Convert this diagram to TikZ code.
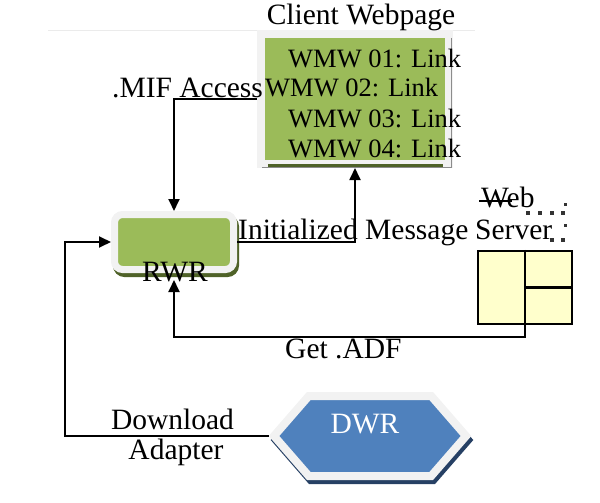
\documentclass[tikz,border=0pt]{standalone}
\usepackage{fontspec}
\setmainfont{Liberation Serif}
\usetikzlibrary{shapes.symbols, arrows.meta, positioning, calc}
\definecolor{leaf}{RGB}{155,187,89}
\definecolor{leafdark}{RGB}{79,98,40}
\definecolor{steel}{RGB}{79,129,189}
\definecolor{steeldark}{RGB}{38,64,100}
\definecolor{rim}{RGB}{242,242,242}
\definecolor{paper}{RGB}{255,255,204}

\begin{document}
\begin{tikzpicture}[x=1pt, y=-1pt,
      txt/.style={inner sep=0pt, font=\fontsize{29.5}{35}\selectfont, anchor=base west},
      linktxt/.style={txt, font=\fontsize{26.5}{32}\selectfont},
      rimline/.style={draw=rim, line width=#1},
      dropbox/.style 2 args={preaction={draw=#1, fill=#1, line width=#2,
                  transform canvas={xshift=2pt, yshift=-4pt}}},
      arr/.style={-{Triangle[length=12pt, width=11pt]}, line width=1.8pt}
    ]
    \useasboundingbox (0,0) rectangle (600,503);
    \draw[black!8, line width=0.8pt] (48,30) -- (475,30);

    % boxes
    \node[rectangle, rimline=8pt, fill=leaf, minimum width=188, minimum height=130] (web) at (355,99) {};
    \node[rectangle, rounded corners=8pt, rimline=7pt, fill=leaf, dropbox={leafdark}{7pt},
          minimum width=119, minimum height=55] (rwr) at (174,242) {};
    \node[signal, signal to=west and east, signal pointer angle=98, rimline=8pt, fill=steel,
          dropbox={steeldark}{8pt}, minimum width=192, minimum height=80] (dwr) at (370,436) {};
    \node[rectangle, draw=black, line width=2.5pt, fill=paper,
          minimum width=94, minimum height=73] (srv) at (525,287.5) {};

    \draw[leafdark, line width=3pt] ($(web.south west)+(11,-3)$) -- ($(web.south east)+(-10,-3)$);
    \draw[black!45, line width=0.8pt] ($(web.north east)+(-2,8)$) |- ($(web.south west)+(5,-1)$);
    \draw[line width=2.5pt] (srv.north) -- (srv.south);
    \draw[line width=2.5pt] (srv.center) -- (srv.east);

    % texts
    \node[txt, anchor=base] (title) at ($(web.north)+(6,-5)$) {Client Webpage};
    \node[linktxt] (w1) at (288,67) {WMW 01: Link};
    \node[linktxt] (w2) at (265,96) {WMW 02: Link};
    \node[linktxt] (w3) at (288,128) {WMW 03: Link};
    \node[linktxt] (w4) at (288,157) {WMW 04: Link};
    \node[txt, anchor=base] (rwrlbl) at ($(rwr.south)+(1,8)$) {RWR};
    \node[txt, anchor=base, text=white] (dwrlbl) at ($(dwr.center)+(-5,-3)$) {DWR};
    \node[txt] (weblbl) at (481,207) {Web};
    \node[txt] (srvlbl) at (475,239) {Server};

    % web server icon bits
    \draw[line width=1.2pt] (479,201) -- (512,201);
    \foreach \x in {528,540,552,563}
      \fill[black!80] (\x-1.8,211) rectangle ++(3.6,3.6);
    \foreach \x in {552,563}
      \fill[black!80] (\x-1.8,238) rectangle ++(3.6,3.6);
    \foreach \y in {203,224}
      \fill[black!80] (564,\y) rectangle ++(2.5,2.5);

    % connectors
    \draw[arr] (web.west) -| (rwr.north);
    \draw[arr] (rwr.east) -| (web.south);
    \draw[arr, shorten >=7pt] (srv.south) -- ++(0,12) -| (rwr.south);
    \coordinate (dlbend) at (65,436);
    \draw[arr] (dwr.west) -- (dlbend) |- (rwr.west);

    \node[txt] (mif) at (112,97) {.MIF Access};
    \node[txt] (init) at (238,239) {Initialized Message};
    \node[txt] (adf) at (285,358) {Get .ADF};
    \node[txt, anchor=base] (dl) at (172.5,429) {Download};
    \node[txt, anchor=base] (ad) at (176,459) {Adapter};
  \end{tikzpicture}
\end{document}
